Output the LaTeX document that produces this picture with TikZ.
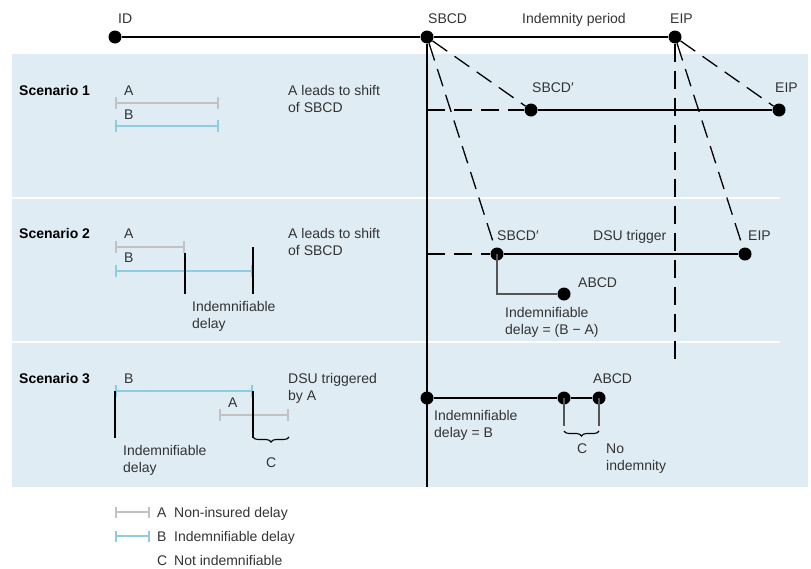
\documentclass[tikz,border=0pt]{standalone}
\usepackage{fontspec}
\setmainfont{Liberation Sans}
\usetikzlibrary{arrows.meta,decorations.pathreplacing}
\definecolor{panel}{HTML}{DFECF4}
\definecolor{greybar}{HTML}{C2C2C2}
\definecolor{bluebar}{HTML}{8ECCE0}
\definecolor{txt}{HTML}{333333}
\definecolor{stem}{HTML}{555555}
\begin{document}
\begin{tikzpicture}[x=1pt,y=-1pt,
  dot/.style={circle,fill=black,inner sep=0,minimum size=13pt},
  lbl/.style={inner sep=0,anchor=base west,text=txt,align=left,
    font=\fontsize{14}{17.5}\selectfont},
  head/.style={inner sep=0,anchor=base west,text=black,
    font=\fontsize{14}{17.5}\selectfont\bfseries},
  tline/.style={line width=1.3pt,black},
  dline/.style={line width=1.3pt,black,dash pattern=on 18pt off 9pt},
  stemline/.style={line width=1.3pt,stem},
  greyA/.style={line width=2pt,greybar,{Bar[width=12pt]}-{Bar[width=12pt]}},
  blueB/.style={line width=2pt,bluebar,{Bar[width=12pt]}-{Bar[width=12pt]}},
  cbrace/.style={line width=1.1pt,black,decorate,
    decoration={brace,mirror,amplitude=5pt}}]
\useasboundingbox (0,0) rectangle (811,568);

% scenario panels
\fill[panel] (12,54) rectangle (808,487);
\draw[white,line width=2.5pt] (12,198) -- (780,198);
\draw[white,line width=2.5pt] (12,342) -- (780,342);

% main time line
\node[dot] (id) at (115,37) {};
\node[dot] (sbcd) at (427,37) {};
\node[dot] (eip) at (675,37) {};
\coordinate (sbcdend) at (427,487);
\coordinate (eipend) at (675,367);
\draw[tline] (id) -- (sbcd) -- (eip);
\draw[tline] (sbcd) -- (sbcdend);
\draw[dline] (eip) -- (eipend);
\node[lbl] (lid) at (118,23) {ID};
\node[lbl] (lsbcd) at (428,23) {SBCD};
\node[lbl] (lperiod) at (522,23) {Indemnity period};
\node[lbl] (leip) at (670,23) {EIP};

% scenario 1 (two-line labels are placed by their last baseline)
\node[head] (s1) at (19,95) {Scenario 1};
\node[lbl] (s1a) at (124,95) {A};
\draw[greyA] (115,103) -- (219,103);
\node[lbl] (s1b) at (124,119) {B};
\draw[blueB] (115,126) -- (219,126);
\node[lbl] (s1note) at (288,112.5) {A leads to shift\\of SBCD};
\node[dot] (sbcdA) at (531,110) {};
\node[dot] (eipA) at (779,110) {};
\coordinate (s1start) at (427,110);
\draw[dline] (s1start) -- (sbcdA);
\draw[tline] (sbcdA) -- (eipA);
\draw[dline] (sbcd) -- (sbcdA);
\draw[dline] (eip) -- (eipA);
\node[lbl] (ls1sbcd) at (532,92) {SBCD′};
\node[lbl] (ls1eip) at (775,92) {EIP};

% scenario 2
\node[head] (s2) at (19,238) {Scenario 2};
\node[lbl] (s2a) at (124,238) {A};
\draw[greyA] (115,247) -- (185,247);
\node[lbl] (s2b) at (124,262) {B};
\draw[blueB] (115,271) -- (253,271);
\draw[tline,line width=1.1pt] (185,253) -- (185,294);
\draw[tline,line width=1.1pt] (253,247) -- (253,294);
\node[lbl] (s2delay) at (192,328.5) {Indemnifiable\\delay};
\node[lbl] (s2note) at (288,255.5) {A leads to shift\\of SBCD};
\node[dot] (sbcdB) at (497,254) {};
\node[dot] (eipB) at (745,254) {};
\node[dot] (abcdB) at (564,294) {};
\coordinate (s2start) at (427,254);
\draw[dline] (s2start) -- (sbcdB);
\draw[tline] (sbcdB) -- (eipB);
\draw[dline] (sbcd) -- (sbcdB);
\draw[dline] (eip) -- (eipB);
\draw[stemline] (sbcdB.center) |- (abcdB);
\node[lbl] (ls2sbcd) at (497,240) {SBCD′};
\node[lbl] (ldsu) at (593,240) {DSU trigger};
\node[lbl] (ls2eip) at (748,240) {EIP};
\node[lbl] (ls2abcd) at (578,287) {ABCD};
\node[lbl] (s2right) at (505,334.5) {Indemnifiable\\delay = (B − A)};

% scenario 3
\node[head] (s3) at (19,383) {Scenario 3};
\node[lbl] (s3b) at (124,383) {B};
\draw[blueB] (115,391) -- (253,391);
\node[lbl] (s3a) at (228,407) {A};
\draw[greyA] (219,415) -- (289,415);
\draw[tline,line width=1.1pt] (115,391) -- (115,438);
\draw[tline,line width=1.1pt] (253,391) -- (253,438);
\draw[cbrace] (253,437) -- (289,437);
\node[lbl] (s3c) at (266,467) {C};
\node[lbl] (s3delay) at (123,472.5) {Indemnifiable\\delay};
\node[lbl] (s3note) at (288,400.5) {DSU triggered\\by A};
\node[dot] (sbcdC) at (427,398) {};
\node[dot] (midC) at (564,398) {};
\node[dot] (abcdC) at (599,398) {};
\coordinate (midCend) at (564,426);
\coordinate (abcdCend) at (599,426);
\draw[tline] (sbcdC) -- (midC) -- (abcdC);
\draw[stemline] (midC.center) -- (midCend);
\draw[stemline] (abcdC.center) -- (abcdCend);
\draw[cbrace] (564,431) -- (599,431);
\node[lbl] (ls3abcd) at (593,383) {ABCD};
\node[lbl] (s3right) at (434,437.5) {Indemnifiable\\delay = B};
\node[lbl] (s3c2) at (577,453) {C};
\node[lbl] (s3none) at (606,470.5) {No\\indemnity};

% legend
\draw[greyA,{Bar[width=11pt]}-{Bar[width=11pt]}] (115,512) -- (150,512);
\draw[blueB,{Bar[width=11pt]}-{Bar[width=11pt]}] (115,536) -- (150,536);
\node[lbl] (kA) at (157,517) {A};
\node[lbl] (kAt) at (174,517) {Non-insured delay};
\node[lbl] (kB) at (157,541) {B};
\node[lbl] (kBt) at (174,541) {Indemnifiable delay};
\node[lbl] (kC) at (157,565) {C};
\node[lbl] (kCt) at (174,565) {Not indemnifiable};
\end{tikzpicture}
\end{document}
